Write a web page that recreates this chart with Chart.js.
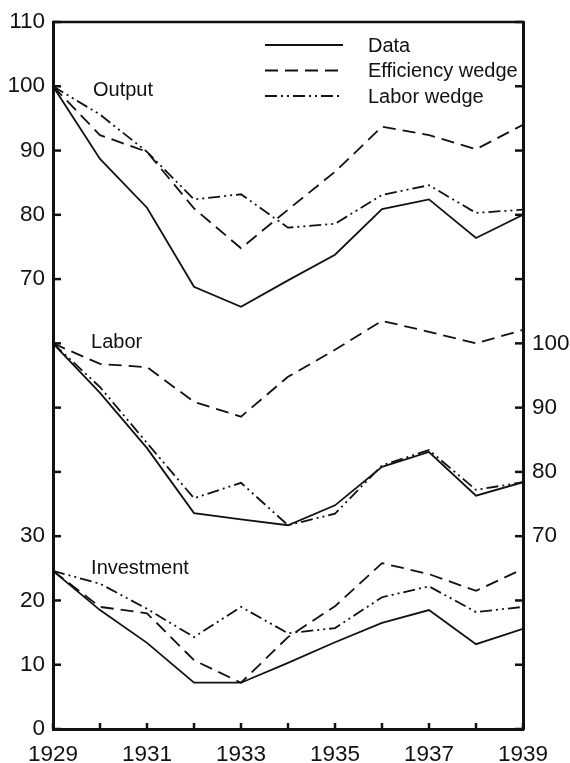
<!DOCTYPE html>
<html>
<head>
<meta charset="utf-8">
<script src="https://cdn.jsdelivr.net/npm/chart.js@4.4.1/dist/chart.umd.min.js"></script>
<style>
	body { margin: 0; background: #fff; }
	#wrap { width: 570px; height: 763px; position: relative; }
</style>
</head>
<body>
<div id="wrap"><canvas id="wedgeChart"></canvas></div>
<script>
const years = [1929, 1930, 1931, 1932, 1933, 1934, 1935, 1936, 1937, 1938, 1939];

// Output (left scale)
const outputData = [100, 88.7, 81.1, 68.8, 65.7, 69.8, 73.8, 80.9, 82.4, 76.4, 80.0];
const outputEff = [100, 92.4, 89.8, 81.0, 74.8, 80.8, 86.7, 93.7, 92.4, 90.2, 94.0];
const outputLab = [100, 95.6, 89.8, 82.4, 83.2, 78.0, 78.6, 83.1, 84.6, 80.3, 80.8];

// Labor (right scale)
const laborData = [100, 92.3, 83.7, 73.6, 72.6, 71.7, 74.8, 80.8, 83.1, 76.3, 78.4];
const laborEff = [100, 96.8, 96.3, 90.9, 88.6, 94.8, 99.0, 103.5, 101.8, 100.0, 102.1];
const laborLab = [100, 93.2, 84.5, 75.9, 78.3, 71.7, 73.5, 81.0, 83.4, 77.2, 78.4];

// Investment (left scale)
const investData = [24.6, 18.5, 13.4, 7.2, 7.2, 10.3, 13.5, 16.5, 18.5, 13.2, 15.6];
const investEff = [24.6, 19.0, 18.0, 10.7, 7.2, 14.3, 19.1, 25.8, 24.1, 21.5, 24.9];
const investLab = [24.6, 22.6, 18.7, 14.3, 19.0, 14.9, 15.7, 20.5, 22.2, 18.2, 19.0];

const leftLabels = [0, 10, 20, 30, 70, 80, 90, 100, 110];
const rightLabels = [70, 80, 90, 100];
const seriesNames = ['Data', 'Efficiency wedge', 'Labor wedge'];
const panelNames = ['Output', 'Labor', 'Investment'];

const FONT = "'Liberation Sans', Arial, Helvetica, sans-serif";
const INK = '#111';
const dashes = [[], [13, 7], [12, 4, 2, 4, 2, 4]];

const toPoints = (values) => values.map((v, i) => ({ x: years[i], y: v }));

const makeSet = (label, values, kind, axis) => ({
	label: label,
	data: toPoints(values),
	yAxisID: axis,
	borderColor: INK,
	borderWidth: 1.8,
	borderDash: dashes[kind],
	pointRadius: 0,
	tension: 0,
	fill: false,
});

const datasets = [
	makeSet(seriesNames[0], outputData, 0, 'y'),
	makeSet(seriesNames[1], outputEff, 1, 'y'),
	makeSet(seriesNames[2], outputLab, 2, 'y'),
	makeSet(seriesNames[0], laborData, 0, 'y2'),
	makeSet(seriesNames[1], laborEff, 1, 'y2'),
	makeSet(seriesNames[2], laborLab, 2, 'y2'),
	makeSet(seriesNames[0], investData, 0, 'y'),
	makeSet(seriesNames[1], investEff, 1, 'y'),
	makeSet(seriesNames[2], investLab, 2, 'y'),
];

const line = (ctx, x1, y1, x2, y2) => {
	ctx.beginPath();
	ctx.moveTo(x1, y1);
	ctx.lineTo(x2, y2);
	ctx.stroke();
};

// inward tick marks, top border, panel names and legend
const decorations = {
	id: 'decorations',
	afterDraw(chart) {
		const { ctx, chartArea: a, scales } = chart;
		ctx.save();
		ctx.strokeStyle = INK;
		ctx.lineWidth = 2.5;
		line(ctx, a.left - 1, a.top, a.right + 1, a.top);
		scales.y.ticks.forEach((t) => {
			const py = scales.y.getPixelForValue(t.value);
			line(ctx, a.left, py, a.left + 8, py);
		});
		scales.y2.ticks.forEach((t) => {
			const py = scales.y2.getPixelForValue(t.value);
			line(ctx, a.right - 8, py, a.right, py);
		});
		scales.x.ticks.forEach((t) => {
			const px = scales.x.getPixelForValue(t.value);
			line(ctx, px, a.bottom - 6, px, a.bottom);
		});

		ctx.fillStyle = INK;
		ctx.font = '20px ' + FONT;
		ctx.textBaseline = 'middle';
		ctx.textAlign = 'left';
		const x = scales.x;
		ctx.fillText(panelNames[0], x.getPixelForValue(1929.85), scales.y.getPixelForValue(99.4));
		ctx.fillText(panelNames[1], x.getPixelForValue(1929.81), scales.y2.getPixelForValue(100.2));
		ctx.fillText(panelNames[2], x.getPixelForValue(1929.81), scales.y.getPixelForValue(25.0));

		// legend
		for (let i = 0; i < 3; i++) {
			const ly = 45 + i * 25.5;
			ctx.lineWidth = 1.8;
			ctx.setLineDash(dashes[i]);
			line(ctx, 265, ly, 343, ly);
			ctx.setLineDash([]);
			ctx.fillText(seriesNames[i], 368, ly + 1);
		}
		ctx.restore();
	},
};

const config = {
	type: 'line',
	data: { datasets: datasets },
	options: {
		responsive: true,
		maintainAspectRatio: false,
		animation: false,
		layout: { padding: { top: 22 } },
		plugins: { legend: { display: false }, tooltip: { enabled: false } },
		scales: {
			x: {
				type: 'linear',
				min: 1929,
				max: 1939,
				grid: { display: false },
				border: { display: true, width: 3, color: INK },
				afterFit: (s) => { s.height = 34; },
				ticks: {
					stepSize: 1,
					autoSkip: false,
					maxRotation: 0,
					padding: 4,
					color: INK,
					font: { family: FONT, size: 22.5 },
					callback: (v) => (v % 2 === 1 ? String(v) : ''),
				},
			},
			y: {
				position: 'left',
				min: 0,
				max: 110,
				grid: { display: false },
				border: { display: true, width: 3, color: INK },
				afterFit: (s) => { s.width = 53; },
				ticks: {
					stepSize: 10,
					padding: 0,
					color: INK,
					font: { family: FONT, size: 22.5 },
					callback: (v) => (leftLabels.includes(v) ? String(v) : ''),
				},
			},
			y2: {
				position: 'right',
				min: 40,
				max: 150,
				grid: { display: false },
				border: { display: true, width: 3, color: INK },
				afterFit: (s) => { s.width = 47; },
				ticks: {
					stepSize: 10,
					padding: 1,
					color: INK,
					font: { family: FONT, size: 22.5 },
					callback: (v) => (rightLabels.includes(v) ? String(v) : ''),
				},
			},
		},
	},
	plugins: [decorations],
};

const ctx = document.getElementById('wedgeChart').getContext('2d');
const wedgeChart = new Chart(ctx, config);
</script>
</body>
</html>
